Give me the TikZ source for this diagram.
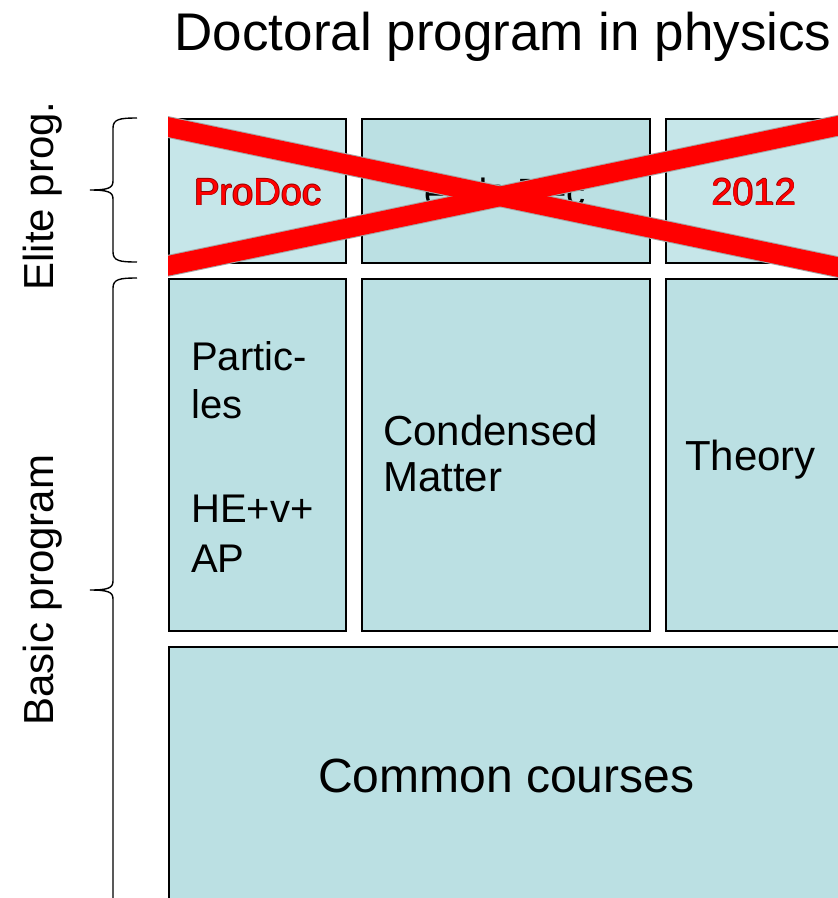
\documentclass[tikz,border=0pt]{standalone}
\usepackage{fontspec}
\setmainfont{Liberation Sans}
\definecolor{boxfill}{RGB}{187,224,227}
\definecolor{boxlight}{RGB}{198,230,233}
\definecolor{crossred}{RGB}{255,0,0}
\definecolor{outlinered}{RGB}{150,0,0}
\begin{document}
\begin{tikzpicture}[x=1pt,y=-1pt,
  box/.style={draw=black,line width=1.6pt,fill=boxfill,rectangle,inner sep=0pt,anchor=north west},
  lbox/.style={box,fill=boxlight},
  lbl/.style={inner sep=0pt,anchor=base west,text=black},
  redlbl/.style={inner sep=0pt,anchor=base,text=crossred,font=\fontsize{38}{44}\selectfont},
  redshadow/.style={redlbl,text=outlinered},
  brace/.style={draw=black,line width=1.4pt},
  side/.style={inner sep=0pt,anchor=base,rotate=90,font=\fontsize{42}{48}\selectfont}]
\useasboundingbox (0,0) rectangle (838,898);
\clip (0,0) rectangle (838,898);
% title
\node[inner sep=0pt,anchor=base,font=\fontsize{53}{60}\selectfont] (title) at (503,50) {Doctoral program in physics};
% side labels
\node[side] (elite) at (53,196) {Elite prog.};
\node[side] (basic) at (53,590) {Basic program};
% braces
\draw[brace] (137,118) .. controls (120,118) and (113,119) .. (113,128) -- (113,181)
  .. controls (113,188) and (108,190) .. (90,190)
  .. controls (108,190) and (113,192) .. (113,199) -- (113,252)
  .. controls (113,261) and (120,262) .. (137,262);
\draw[brace] (137,278) .. controls (120,278) and (113,279) .. (113,288) -- (113,581)
  .. controls (113,588) and (108,590) .. (90,590)
  .. controls (108,590) and (113,592) .. (113,599) -- (113,910);
% elite row
\node[lbox,minimum width=177pt,minimum height=144pt] (e1) at (168,118) {};
\node[box,minimum width=288pt,minimum height=144pt] (e2) at (361,118) {};
\node[lbox,minimum width=200pt,minimum height=144pt] (e3) at (665,118) {};
% basic row
\node[box,minimum width=177pt,minimum height=352pt] (b1) at (168,278) {};
\node[box,minimum width=288pt,minimum height=352pt] (b2) at (361,278) {};
\node[box,minimum width=200pt,minimum height=352pt] (b3) at (665,278) {};
% common
\node[box,minimum width=700pt,minimum height=280pt] (c1) at (168,646) {};
% hidden middle text
\node[inner sep=0pt,anchor=base,font=\fontsize{38}{44}\selectfont] (mid) at (505,205) {ends Dec};
% cross
\begin{scope}
\clip (168,100) rectangle (838,300);
\draw[line width=21.5pt,black!35] (100,112.8) -- (900,280);
\draw[line width=21.5pt,black!35] (100,280) -- (900,112.8);
\draw[line width=19.5pt,crossred] (100,112.8) -- (900,280);
\draw[line width=19.5pt,crossred] (100,280) -- (900,112.8);
\end{scope}
% red labels with dark outline
\foreach \dx/\dy in {-0.7/0,0.7/0,0/-0.7,0/0.7}{
  \node[redshadow] at (258+\dx,205+\dy) {ProDoc};
  \node[redshadow] at (754+\dx,205+\dy) {2012};
}
\node[redlbl] (prodoc) at (258,205) {ProDoc};
\node[redlbl] (year) at (754,205) {2012};
% basic texts
\node[lbl,font=\fontsize{40}{48}\selectfont] (p1) at (191,370) {Partic-};
\node[lbl,font=\fontsize{40}{48}\selectfont] (p2) at (191,418) {les};
\node[lbl,font=\fontsize{40}{48}\selectfont] (p3) at (191,522) {HE+v+};
\node[lbl,font=\fontsize{40}{48}\selectfont] (p4) at (191,572) {AP};
\node[lbl,font=\fontsize{42}{50}\selectfont] (cm1) at (383,445) {Condensed};
\node[lbl,font=\fontsize{42}{50}\selectfont] (cm2) at (383,491) {Matter};
\node[lbl,font=\fontsize{42}{50}\selectfont] (th) at (685,470) {Theory};
\node[lbl,font=\fontsize{48}{54}\selectfont] (cc) at (318,792) {Common courses};
\end{tikzpicture}
\end{document}
